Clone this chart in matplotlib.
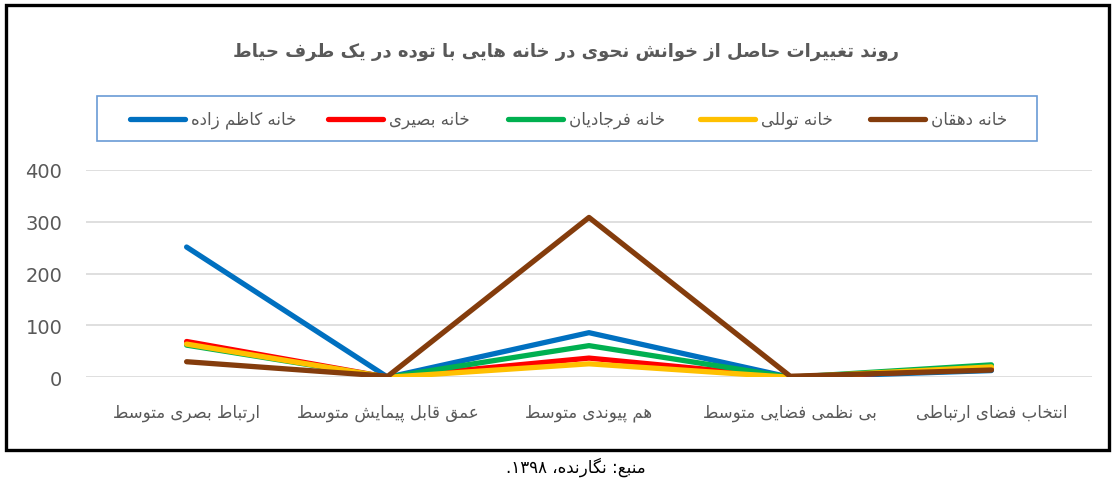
import re
import matplotlib
matplotlib.use("Agg")
import matplotlib.pyplot as plt
from matplotlib.lines import Line2D
from matplotlib.patches import Rectangle

W, H = 1115, 485
INK = "#595959"
GRID = "#D9D9D9"

TITLE = "روند تغییرات حاصل از خوانش نحوی در خانه هایی با توده در یک طرف حیاط"
SOURCE = "منبع: نگارنده، ۱۳۹۸."

categories = [
    "ارتباط بصری متوسط",
    "عمق قابل پیمایش متوسط",
    "هم پیوندی متوسط",
    "بی نظمی فضایی متوسط",
    "انتخاب فضای ارتباطی",
]
series_names = ["خانه کاظم زاده", "خانه بصیری", "خانه فرجادیان", "خانه توللی", "خانه دهقان"]
kazemzadeh = [251, 0, 86, 0, 13]
basiri = [69, 0, 37, 0, 17]
farjadian = [62, 0, 61, 0, 24]
tavalloli = [64, 0, 26, 0, 20]
dehghan = [30, 2, 308, 2, 14]
series_values = [kazemzadeh, basiri, farjadian, tavalloli, dehghan]
colors = ["#0070C0", "#FF0000", "#00B050", "#FFC000", "#843C0C"]
yticks = [0, 100, 200, 300, 400]

# presentation forms: isolated, final, initial, medial (right-joining letters only have two)
FORMS = {
    "\u0622": "\uFE81\uFE82",
    "\u0627": "\uFE8D\uFE8E",
    "\u0628": "\uFE8F\uFE90\uFE91\uFE92",
    "\u067E": "\uFB56\uFB57\uFB58\uFB59",
    "\u062A": "\uFE95\uFE96\uFE97\uFE98",
    "\u062B": "\uFE99\uFE9A\uFE9B\uFE9C",
    "\u062C": "\uFE9D\uFE9E\uFE9F\uFEA0",
    "\u0686": "\uFB7A\uFB7B\uFB7C\uFB7D",
    "\u062D": "\uFEA1\uFEA2\uFEA3\uFEA4",
    "\u062E": "\uFEA5\uFEA6\uFEA7\uFEA8",
    "\u062F": "\uFEA9\uFEAA",
    "\u0630": "\uFEAB\uFEAC",
    "\u0631": "\uFEAD\uFEAE",
    "\u0632": "\uFEAF\uFEB0",
    "\u0698": "\uFB8A\uFB8B",
    "\u0633": "\uFEB1\uFEB2\uFEB3\uFEB4",
    "\u0634": "\uFEB5\uFEB6\uFEB7\uFEB8",
    "\u0635": "\uFEB9\uFEBA\uFEBB\uFEBC",
    "\u0636": "\uFEBD\uFEBE\uFEBF\uFEC0",
    "\u0637": "\uFEC1\uFEC2\uFEC3\uFEC4",
    "\u0638": "\uFEC5\uFEC6\uFEC7\uFEC8",
    "\u0639": "\uFEC9\uFECA\uFECB\uFECC",
    "\u063A": "\uFECD\uFECE\uFECF\uFED0",
    "\u0641": "\uFED1\uFED2\uFED3\uFED4",
    "\u0642": "\uFED5\uFED6\uFED7\uFED8",
    "\u06A9": "\uFB8E\uFB8F\uFB90\uFB91",
    "\u06AF": "\uFB92\uFB93\uFB94\uFB95",
    "\u0644": "\uFEDD\uFEDE\uFEDF\uFEE0",
    "\u0645": "\uFEE1\uFEE2\uFEE3\uFEE4",
    "\u0646": "\uFEE5\uFEE6\uFEE7\uFEE8",
    "\u0648": "\uFEED\uFEEE",
    "\u0647": "\uFEE9\uFEEA\uFEEB\uFEEC",
    "\u06CC": "\uFBFC\uFBFD\uFBFE\uFBFF",
}


def rtl(text):
    """Join Persian letters into their contextual forms and lay them out right to left."""
    text = text.replace("\u064A", "\u06CC").replace("\u0643", "\u06A9")
    out = []
    for i, ch in enumerate(text):
        f = FORMS.get(ch)
        if f is None:
            out.append(ch)
            continue
        prev = text[i - 1] if i > 0 else ""
        nxt = text[i + 1] if i + 1 < len(text) else ""
        joins_prev = len(FORMS.get(prev, "")) == 4
        joins_next = len(f) == 4 and nxt in FORMS
        if joins_prev and joins_next:
            out.append(f[3])
        elif joins_prev:
            out.append(f[1])
        elif joins_next:
            out.append(f[2])
        else:
            out.append(f[0])
    s = "".join(reversed(out))
    return re.sub(r"[0-9\u06F0-\u06F9]+", lambda m: m.group(0)[::-1], s)


plt.rcParams["font.family"] = ["DejaVu Sans"]

fig = plt.figure(figsize=(W / 100, H / 100), dpi=100)
fig.patch.set_facecolor("white")

ax = fig.add_axes([86 / W, 1 - 378.3 / H, (1092 - 86) / W, (378.3 - 170.7) / H])
x = list(range(len(categories)))
for vals, color in zip(series_values, colors):
    ax.plot(x, vals, color=color, linewidth=3.8, solid_capstyle="round",
            solid_joinstyle="round", zorder=3)

ax.set_xlim(-0.5, len(categories) - 0.5)
ax.set_ylim(0, 400)
ax.set_yticks(yticks)
ax.set_yticklabels([str(t) for t in yticks], fontsize=14, color=INK)
ax.set_xticks(x)
ax.set_xticklabels([rtl(c) for c in categories], fontsize=12, color=INK)
ax.tick_params(axis="y", length=0, pad=17)
ax.tick_params(axis="x", length=0, pad=18.5)
ax.grid(axis="y", color=GRID, linewidth=1.2, zorder=0)
for spine in ax.spines.values():
    spine.set_visible(False)

fig.text(566 / W, 1 - 52 / H, rtl(TITLE), ha="center", va="center",
         fontsize=13, fontweight="bold", color=INK)

# legend box with line keys to the left of each name
fig.add_artist(Rectangle((97 / W, 1 - 142 / H), (1037 - 97) / W, 45 / H,
                         transform=fig.transFigure, fill=False,
                         edgecolor="#6A9BD6", linewidth=1.2))
key_starts = [130, 328, 508, 700, 870]
for x0, name, color in zip(key_starts, series_names, colors):
    fig.add_artist(Line2D([x0 / W, (x0 + 55) / W], [1 - 120 / H, 1 - 120 / H],
                          transform=fig.transFigure, color=color, linewidth=3.8,
                          solid_capstyle="round"))
    fig.text((x0 + 61) / W, 1 - 120 / H, rtl(name), ha="left", va="center",
             fontsize=12, color=INK)

# outer frame
fig.add_artist(Rectangle((6 / W, 1 - 451 / H), 1103 / W, 445 / H,
                         transform=fig.transFigure, fill=False,
                         edgecolor="black", linewidth=2.4))

fig.text(576 / W, 1 - 467 / H, rtl(SOURCE), ha="center", va="center",
         fontsize=12, color="black")

fig.savefig("out.png", dpi=100, facecolor="white")
